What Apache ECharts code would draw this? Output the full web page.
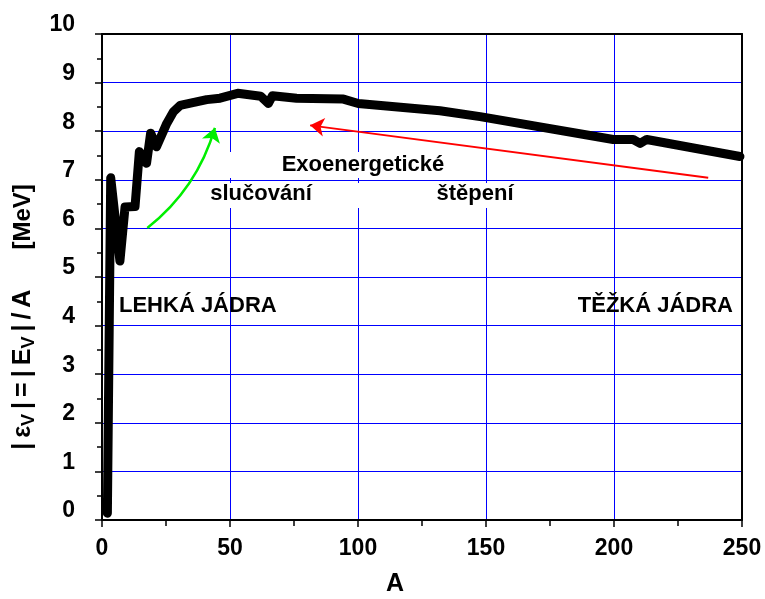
<!DOCTYPE html>
<html>
<head>
<meta charset="utf-8">
<script src="https://cdn.jsdelivr.net/npm/echarts@6/dist/echarts.min.js"></script>
<style>
  html, body { margin: 0; padding: 0; background: #fff; }
  #chart { width: 765px; height: 599px; }
</style>
</head>
<body>
<div id="chart"></div>
<script>
// binding energy per nucleon vs mass number A
const massNumber = [2.1, 3.4, 7.0, 9.0, 12.9, 14.6, 17.4, 19.0, 21.3, 25.3, 27.9, 30.5, 40.9, 46.1, 53.0, 62.0, 65.0, 66.6, 76.0, 94.3, 100.1, 132.0, 147.7, 199.7, 207.5, 210.2, 212.8, 249.2]
const bindingEnergy = [0.14, 7.04, 5.33, 6.44, 6.45, 7.58, 7.34, 7.96, 7.68, 8.16, 8.40, 8.53, 8.65, 8.68, 8.78, 8.72, 8.57, 8.73, 8.68, 8.66, 8.57, 8.42, 8.30, 7.83, 7.83, 7.75, 7.83, 7.48]

const xTicks = [0, 50, 100, 150, 200, 250]
const yTicks = [0, 1, 2, 3, 4, 5, 6, 7, 8, 9, 10]

// arrows, in data units: [A, MeV]
const fusionArrow = [[17.7, 6.01], [44.1, 8.07]]
const fissionArrow = [[236.8, 7.04], [81.3, 8.12]]

const FONT = '"Liberation Sans", Arial, sans-serif'
const TS = '\u2009' // thin space

const chart = echarts.init(document.getElementById('chart'), null, { renderer: 'canvas' })

const curveData = massNumber.map((a, i) => [a, bindingEnergy[i]])

function arrowSeries(name, pts, color, width, curveness) {
  return {
    name,
    type: 'lines',
    coordinateSystem: 'cartesian2d',
    silent: true,
    z: 3,
    symbol: ['none', 'arrow'],
    symbolSize: 14,
    lineStyle: { color, width, opacity: 1, curveness },
    data: [{ coords: pts }],
  }
}

const yName = '{m||' + TS + 'ε}{s|V}{m|' + TS + '|' + TS + '=' + TS + '|' + TS + 'E}{s|V}{m|' + TS + '|' + TS + '/' + TS + 'A}{g|}{u|[MeV]}'

chart.setOption({
  animation: false,
  grid: {
    left: 102,
    right: 23,
    top: 34,
    bottom: 79,
    containLabel: false,
    outerBoundsMode: 'none',
  },
  xAxis: [
    {
      type: 'value',
      min: xTicks[0],
      max: xTicks[xTicks.length - 1],
      interval: 50,
      name: 'A',
      nameLocation: 'middle',
      nameGap: 52,
      nameTextStyle: { fontFamily: FONT, fontWeight: 'bold', fontSize: 25, color: '#000', padding: [0, 54, 0, 0] },
      axisLine: { onZero: false, lineStyle: { color: '#000', width: 2 } },
      axisTick: { length: 7, lineStyle: { color: '#000', width: 1.5 } },
      minorTick: { show: true, splitNumber: 2, length: 6, lineStyle: { color: '#000', width: 1.5 } },
      axisLabel: { fontFamily: FONT, fontWeight: 'bold', fontSize: 23, color: '#000', margin: 17 },
      splitLine: { show: true, lineStyle: { color: '#0000ff', width: 1 } },
    },
    {
      type: 'value',
      position: 'top',
      min: 0,
      max: 250,
      axisLine: { onZero: false, lineStyle: { color: '#000', width: 2 } },
      axisTick: { show: false },
      axisLabel: { show: false },
      splitLine: { show: false },
    },
  ],
  yAxis: [
    {
      type: 'value',
      min: yTicks[0],
      max: yTicks[yTicks.length - 1],
      interval: 1,
      name: yName,
      nameLocation: 'middle',
      nameGap: 61,
      nameTextStyle: {
        fontFamily: FONT, fontWeight: 'bold', fontSize: 25, color: '#000',
        padding: [0, 80, 0, 0],
        rich: {
          m: { fontFamily: FONT, fontWeight: 'bold', fontSize: 25, color: '#000', lineHeight: 30 },
          s: { fontFamily: FONT, fontWeight: 'bold', fontSize: 18, color: '#000', verticalAlign: 'bottom', lineHeight: 20 },
          g: { width: 40 },
          u: { fontFamily: FONT, fontWeight: 'bold', fontSize: 24, color: '#000', lineHeight: 30 },
        },
      },
      axisLine: { onZero: false, lineStyle: { color: '#000', width: 2 } },
      axisTick: { length: 7, lineStyle: { color: '#000', width: 1.5 } },
      minorTick: { show: true, splitNumber: 2, length: 5, lineStyle: { color: '#000', width: 1.5 } },
      axisLabel: { fontFamily: FONT, fontWeight: 'bold', fontSize: 23, color: '#000', margin: 27, verticalAlign: 'bottom', lineHeight: 18 },
      splitLine: { show: true, lineStyle: { color: '#0000ff', width: 1 } },
    },
    {
      type: 'value',
      position: 'right',
      min: 0,
      max: 10,
      axisLine: { show: true, onZero: false, lineStyle: { color: '#000', width: 2 } },
      axisTick: { show: false },
      axisLabel: { show: false },
      splitLine: { show: false },
    },
  ],
  graphic: [
    // white boxes behind the middle captions
    { type: 'rect', z: 1, silent: true, shape: { x: 210, y: 152, width: 240, height: 26 }, style: { fill: '#fff' } },
    { type: 'rect', z: 1, silent: true, shape: { x: 210, y: 183, width: 304, height: 25 }, style: { fill: '#fff' } },
    { type: 'text', z: 5, x: 363, y: 165, style: { text: 'Exoenergetické', font: 'bold 22px ' + FONT, fill: '#000', textAlign: 'center', textVerticalAlign: 'middle', align: 'center', verticalAlign: 'middle' } },
    { type: 'text', z: 5, x: 261, y: 194, style: { text: 'slučování', font: 'bold 22px ' + FONT, fill: '#000', textAlign: 'center', textVerticalAlign: 'middle', align: 'center', verticalAlign: 'middle' } },
    { type: 'text', z: 5, x: 475, y: 194, style: { text: 'štěpení', font: 'bold 22px ' + FONT, fill: '#000', textAlign: 'center', textVerticalAlign: 'middle', align: 'center', verticalAlign: 'middle' } },
    { type: 'text', z: 5, x: 119, y: 306, style: { text: 'LEHKÁ JÁDRA', font: 'bold 22px ' + FONT, fill: '#000', textAlign: 'left', textVerticalAlign: 'middle', align: 'left', verticalAlign: 'middle' } },
    { type: 'text', z: 5, x: 733, y: 306, style: { text: 'TĚŽKÁ JÁDRA', font: 'bold 22px ' + FONT, fill: '#000', textAlign: 'right', textVerticalAlign: 'middle', align: 'right', verticalAlign: 'middle' } },
  ],
  series: [
    {
      name: 'Ev/A',
      type: 'line',
      data: curveData,
      symbol: 'none',
      smooth: false,
      z: 4,
      lineStyle: { color: '#000', width: 9, cap: 'round', join: 'round' },
    },
    arrowSeries('fusion', fusionArrow, '#00ee00', 2.5, -0.16),
    arrowSeries('fission', fissionArrow, '#ff0000', 2, 0),
  ],
})
</script>
</body>
</html>
